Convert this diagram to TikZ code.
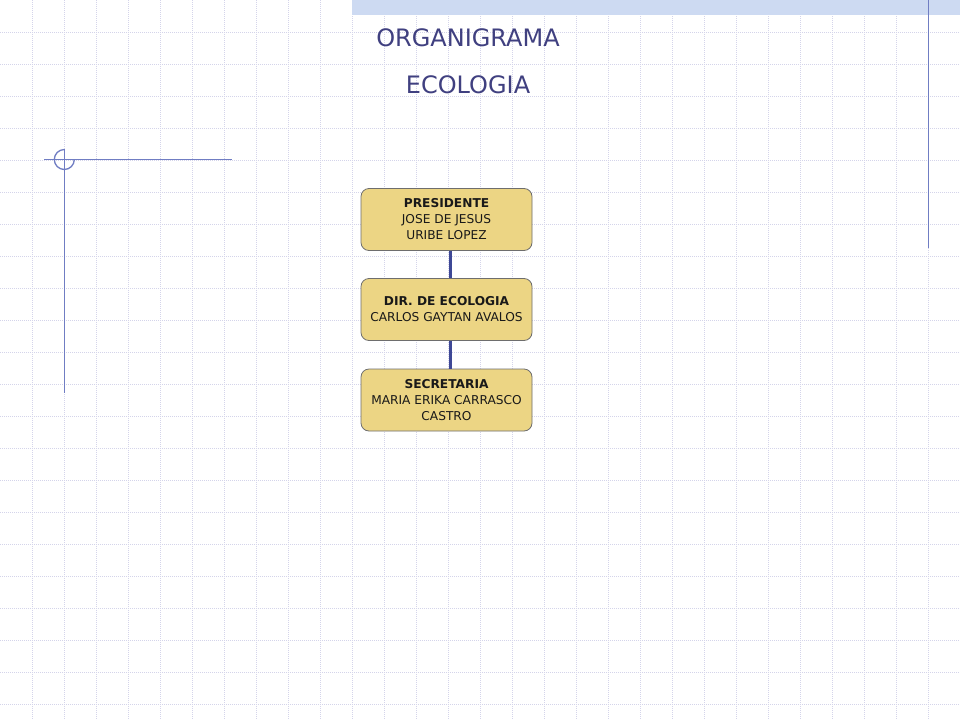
\documentclass[tikz,border=0pt]{standalone}
\usepackage{fontspec}
\setmainfont{DejaVu Sans}
\begin{document}
\begin{tikzpicture}[x=1pt,y=-1pt,
  gridline/.style={draw=gridc, line width=1pt, dash pattern=on 1pt off 1pt},
  deco/.style={draw=decoc, line width=1.3pt},
  orgbox/.style={draw=boxborder, line width=0.8pt, fill=boxfill, rounded corners=8pt,
     minimum width=171pt, minimum height=62pt, align=center, inner sep=0pt,
     font=\fontsize{12.2}{16}\selectfont, text=black!90},
  link/.style={draw=linkc, line width=3pt},
  titletext/.style={text=titlec, font=\fontsize{24}{28}\selectfont, inner sep=0pt}]
\definecolor{gridc}{RGB}{212,212,234}
\definecolor{decoc}{RGB}{112,125,195}
\definecolor{boxfill}{RGB}{236,213,132}
\definecolor{boxborder}{RGB}{110,110,110}
\definecolor{linkc}{RGB}{62,72,150}
\definecolor{titlec}{RGB}{64,64,128}
\definecolor{barc}{RGB}{205,218,242}
\useasboundingbox (0,0) rectangle (960,720);
\fill[white] (0,0) rectangle (960,720);
% grid
\foreach \gx in {32,64,...,928} { \draw[gridline] (\gx,0) -- (\gx,720); }
\foreach \gy in {32,64,...,704} { \draw[gridline] (0,\gy) -- (960,\gy); }
% top bar
\fill[barc] (352,0) rectangle (960,15);
% decorative lines
\draw[deco] (928.5,0) -- (928.5,248);
\draw[deco] (44,159.5) -- (232,159.5);
\draw[deco] (64.3,149) -- (64.3,393);
\draw[deco] (64.3,149.5) arc[start angle=270, end angle=0, radius=10];
% titles
\node[titletext] (t1) at (468,38) {ORGANIGRAMA};
\node[titletext] (t2) at (468,85) {ECOLOGIA};
% boxes
\node[orgbox] (pres) at (446.5,219.5) {\textbf{PRESIDENTE}\\JOSE DE JESUS\\URIBE LOPEZ};
\node[orgbox] (dir) at (446.5,309.5) {\textbf{DIR. DE ECOLOGIA}\\CARLOS GAYTAN AVALOS};
\node[orgbox] (sec) at (446.5,400) {\textbf{SECRETARIA}\\MARIA ERIKA CARRASCO\\CASTRO};
\draw[link] (pres.south -| 450.7,0) -- (dir.north -| 450.7,0);
\draw[link] (dir.south -| 450.7,0) -- (sec.north -| 450.7,0);
\end{tikzpicture}
\end{document}
